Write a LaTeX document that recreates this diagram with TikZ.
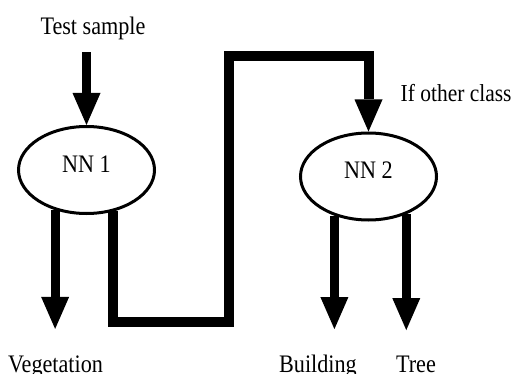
\documentclass[tikz,border=0pt]{standalone}
\usepackage{fontspec}
\setmainfont{Liberation Serif}[FakeStretch=0.88]
\usetikzlibrary{arrows.meta,shapes.geometric}
\tikzset{
  net/.style={ellipse,draw=black,line width=1.5pt,minimum width=68pt,minimum height=43.5pt,inner sep=0pt,text depth=6pt},
  lbl/.style={inner sep=0pt,anchor=base},
  flow/.style={-{Triangle[width=14pt,length=16pt,line width=0pt]},line width=4.5pt},
  feed/.style={flow,line width=5pt}
}

\begin{document}
\begin{tikzpicture}[x=0.5pt,y=-0.5pt,font=\fontsize{12.6}{15}\selectfont]
\useasboundingbox (0,0) rectangle (514,374);
\node[net] (nn1) at (86.5,170) {NN 1};
\node[net] (nn2) at (368.5,176.5) {NN 2};
\node[lbl] (test) at (93,35) {Test sample};
\node[lbl,anchor=base east,font=\fontsize{12.2}{15}\selectfont] (other) at (512,102) {If other class};
\node[lbl] (veg) at (55.5,372) {Vegetation};
\node[lbl] (bld) at (318,372) {Building};
\node[lbl] (tree) at (416,372) {Tree};
\coordinate (low) at (229,322);
\coordinate (high) at (229,56);
% input and outputs
\draw[flow,shorten <=5.75pt] (test.south -| nn1.north) -- (nn1.north);
\draw[flow,shorten >=13pt] (nn1.-128.7) -- (nn1.-128.7 |- veg.north);
\draw[flow,shorten >=12.5pt] (nn2.-131.2) -- (nn2.-131.2 |- bld.north);
\draw[flow,shorten >=12.5pt] (nn2.-45.8) -- (nn2.-45.8 |- tree.north);
% second stage
\draw[feed] (nn1.-57.7) |- (low) -- (high) -| (nn2.north);
\end{tikzpicture}
\end{document}
